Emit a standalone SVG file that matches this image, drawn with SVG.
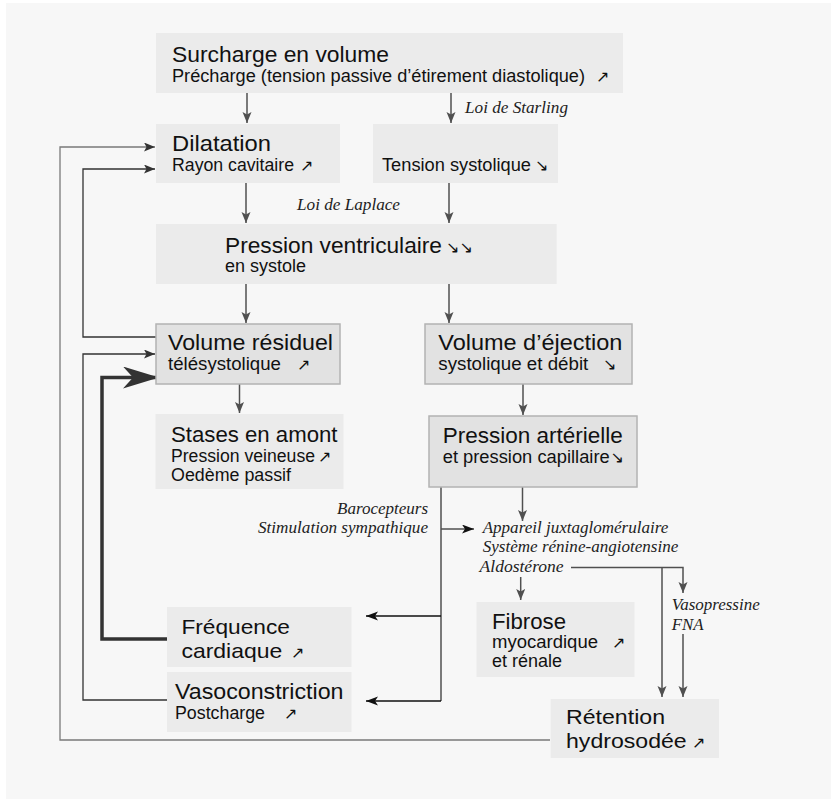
<svg xmlns="http://www.w3.org/2000/svg" width="831" height="799" viewBox="0 0 831 799">
<defs>
<style>
.bg{fill:#f7f7f7}
.box{fill:#ebebeb}
.boxb{fill:#e2e2e2;stroke:#b3b3b3;stroke-width:1.5}
.t1{font-family:"Liberation Sans",Arial,sans-serif;font-size:22px;fill:#111}
.t1s{font-family:"Liberation Sans",Arial,sans-serif;font-size:21px;fill:#111}
.t2{font-family:"Liberation Sans",Arial,sans-serif;font-size:17.5px;fill:#111}
.it{font-family:"Liberation Serif","Times New Roman",serif;font-style:italic;font-size:16px;fill:#222}
.ar{font-family:"DejaVu Sans",sans-serif;font-size:16px;fill:#111}
.c{fill:none;stroke:#505050;stroke-width:1.5}
.ck{fill:none;stroke:#111;stroke-width:1.3}
.cl{fill:none;stroke:#7a7a7a;stroke-width:1.3}
.cd{fill:none;stroke:#333;stroke-width:1.3}
.thick{fill:none;stroke:#333;stroke-width:3.5}
</style>
<marker id="ah" markerUnits="userSpaceOnUse" markerWidth="12" markerHeight="10" refX="11" refY="4.5" orient="auto"><path d="M0,0 L11,4.5 L0,9 L2.5,4.5 z" fill="#505050"/></marker>
<marker id="ahk" markerUnits="userSpaceOnUse" markerWidth="13" markerHeight="10" refX="12" refY="4.5" orient="auto"><path d="M0,0 L12,4.5 L0,9 L3,4.5 z" fill="#111"/></marker>
<marker id="ahd" markerUnits="userSpaceOnUse" markerWidth="12" markerHeight="10" refX="11" refY="4.5" orient="auto"><path d="M0,0 L11,4.5 L0,9 L2.5,4.5 z" fill="#333"/></marker>
<marker id="ahb" markerUnits="userSpaceOnUse" markerWidth="38" markerHeight="24" refX="36" refY="11" orient="auto"><path d="M0,0 L36,11 L0,22 L10,11 z" fill="#333"/></marker>
</defs>
<rect x="0" y="0" width="831" height="799" fill="#ffffff"/>
<rect class="bg" x="6" y="3" width="825" height="796"/>

<g id="connectors">
<path class="c" d="M247,93 V123" marker-end="url(#ah)"/>
<path class="c" d="M451,93 V123" marker-end="url(#ah)"/>
<path class="c" d="M246,183 V223" marker-end="url(#ah)"/>
<path class="c" d="M449,183 V223" marker-end="url(#ah)"/>
<path class="c" d="M246,284 V323" marker-end="url(#ah)"/>
<path class="c" d="M449,284 V323" marker-end="url(#ah)"/>
<path class="c" d="M239.5,384 V413" marker-end="url(#ah)"/>
<path class="c" d="M523,384 V415" marker-end="url(#ah)"/>
<path class="c" d="M522.5,487 V521" marker-end="url(#ah)"/>
<path class="c" d="M441,487 V701"/>
<path class="c" d="M441,529 H474" marker-end="url(#ahk)"/>
<path class="ck" d="M441,616 H366" marker-end="url(#ahk)"/>
<path class="ck" d="M441,701 H366" marker-end="url(#ahk)"/>
<path class="c" d="M571,567.5 H683 V593" marker-end="url(#ah)"/>
<path class="c" d="M662,567.5 V697" marker-end="url(#ah)"/>
<path class="c" d="M683,634 V697" marker-end="url(#ah)"/>
<path class="c" d="M520.7,577 V600" marker-end="url(#ah)"/>
<path class="cl" d="M550,740 H60 V147 H155" marker-end="url(#ahd)"/>
<path class="cd" d="M156,337 H83 V169 H155" marker-end="url(#ahd)"/>
<path class="cd" d="M167,700 H83 V354 H155" marker-end="url(#ahd)"/>
<path class="thick" d="M167,639 H102 V377.5 H159" marker-end="url(#ahb)"/>
</g>

<g id="labels">
<text class="it" x="465" y="113" textLength="103" lengthAdjust="spacingAndGlyphs">Loi de Starling</text>
<text class="it" x="297" y="210" textLength="103" lengthAdjust="spacingAndGlyphs">Loi de Laplace</text>
<text class="it" x="337" y="513.5" textLength="91" lengthAdjust="spacingAndGlyphs">Barocepteurs</text>
<text class="it" x="258" y="533" textLength="170" lengthAdjust="spacingAndGlyphs">Stimulation sympathique</text>
<text class="it" x="482.7" y="533" textLength="185.6" lengthAdjust="spacingAndGlyphs">Appareil juxtaglomérulaire</text>
<text class="it" x="482.7" y="552" textLength="195.6" lengthAdjust="spacingAndGlyphs">Système rénine-angiotensine</text>
<text class="it" x="479.6" y="571.5" textLength="84" lengthAdjust="spacingAndGlyphs">Aldostérone</text>
<text class="it" x="671.7" y="610" textLength="88" lengthAdjust="spacingAndGlyphs">Vasopressine</text>
<text class="it" x="671.7" y="629.5" textLength="31.7" lengthAdjust="spacingAndGlyphs">FNA</text>
</g>

<g id="surcharge">
<rect class="box" x="156" y="33" width="467" height="60"/>
<text class="t1" x="172" y="62" textLength="217" lengthAdjust="spacingAndGlyphs">Surcharge en volume</text>
<text class="t2" x="172" y="82" textLength="413" lengthAdjust="spacingAndGlyphs">Précharge (tension passive d’étirement diastolique)</text>
<text class="ar" x="596" y="82">↗</text>
</g>

<g id="dilatation">
<rect class="box" x="156" y="124" width="184" height="59"/>
<text class="t1" x="172" y="151" textLength="99" lengthAdjust="spacingAndGlyphs">Dilatation</text>
<text class="t2" x="172" y="171" textLength="122" lengthAdjust="spacingAndGlyphs">Rayon cavitaire</text>
<text class="ar" x="300" y="171">↗</text>
</g>

<g id="tension">
<rect class="box" x="373" y="124" width="185" height="59"/>
<text class="t2" x="382" y="171" textLength="149" lengthAdjust="spacingAndGlyphs">Tension systolique</text>
<text class="ar" x="535" y="171">↘</text>
</g>

<g id="pression-ventriculaire">
<rect class="box" x="156" y="224" width="400.7" height="60"/>
<text class="t1" x="225" y="252.5" textLength="217" lengthAdjust="spacingAndGlyphs">Pression ventriculaire</text>
<text class="ar" x="446" y="252.5">↘↘</text>
<text class="t2" x="225" y="272" textLength="81" lengthAdjust="spacingAndGlyphs">en systole</text>
</g>

<g id="volume-residuel">
<rect class="boxb" x="156" y="324" width="184" height="60"/>
<text class="t1" x="168" y="350" textLength="165" lengthAdjust="spacingAndGlyphs">Volume résiduel</text>
<text class="t2" x="168" y="370" textLength="113" lengthAdjust="spacingAndGlyphs">télésystolique</text>
<text class="ar" x="297" y="370">↗</text>
</g>

<g id="volume-ejection">
<rect class="boxb" x="425" y="324" width="207" height="60"/>
<text class="t1" x="438.3" y="350" textLength="184" lengthAdjust="spacingAndGlyphs">Volume d’éjection</text>
<text class="t2" x="438.3" y="370" textLength="150" lengthAdjust="spacingAndGlyphs">systolique et débit</text>
<text class="ar" x="603" y="370">↘</text>
</g>

<g id="pression-arterielle">
<rect class="boxb" x="429" y="416" width="208" height="71"/>
<text class="t1" x="442.7" y="443" textLength="180" lengthAdjust="spacingAndGlyphs">Pression artérielle</text>
<text class="t2" x="442.7" y="463" textLength="167" lengthAdjust="spacingAndGlyphs">et pression capillaire</text>
<text class="ar" x="610.5" y="463">↘</text>
</g>

<g id="stases">
<rect class="box" x="155.5" y="414" width="188" height="75"/>
<text class="t1" x="171" y="442" textLength="166.5" lengthAdjust="spacingAndGlyphs">Stases en amont</text>
<text class="t2" x="171" y="462" textLength="144" lengthAdjust="spacingAndGlyphs">Pression veineuse</text>
<text class="ar" x="318" y="462">↗</text>
<text class="t2" x="171" y="480.5" textLength="120" lengthAdjust="spacingAndGlyphs">Oedème passif</text>
</g>

<g id="frequence">
<rect class="box" x="167" y="607" width="184.5" height="60"/>
<text class="t1s" x="181.4" y="634" textLength="108.5" lengthAdjust="spacingAndGlyphs">Fréquence</text>
<text class="t1s" x="181.4" y="658" textLength="101" lengthAdjust="spacingAndGlyphs">cardiaque</text>
<text class="ar" x="291" y="658">↗</text>
</g>

<g id="vasoconstriction">
<rect class="box" x="167" y="672" width="184.5" height="60"/>
<text class="t1" x="175" y="698.5" textLength="168.5" lengthAdjust="spacingAndGlyphs">Vasoconstriction</text>
<text class="t2" x="175" y="718.5" textLength="90" lengthAdjust="spacingAndGlyphs">Postcharge</text>
<text class="ar" x="284" y="718.5">↗</text>
</g>

<g id="fibrose">
<rect class="box" x="476.5" y="602" width="158" height="75"/>
<text class="t1" x="492" y="628.5" textLength="74" lengthAdjust="spacingAndGlyphs">Fibrose</text>
<text class="t2" x="492" y="647.5" textLength="106" lengthAdjust="spacingAndGlyphs">myocardique</text>
<text class="ar" x="612" y="647.5">↗</text>
<text class="t2" x="492" y="667" textLength="70" lengthAdjust="spacingAndGlyphs">et rénale</text>
</g>

<g id="retention">
<rect class="box" x="550.7" y="699" width="168.3" height="59"/>
<text class="t1s" x="566" y="724" textLength="99" lengthAdjust="spacingAndGlyphs">Rétention</text>
<text class="t1s" x="566" y="748" textLength="120.7" lengthAdjust="spacingAndGlyphs">hydrosodée</text>
<text class="ar" x="692" y="748">↗</text>
</g>
</svg>
